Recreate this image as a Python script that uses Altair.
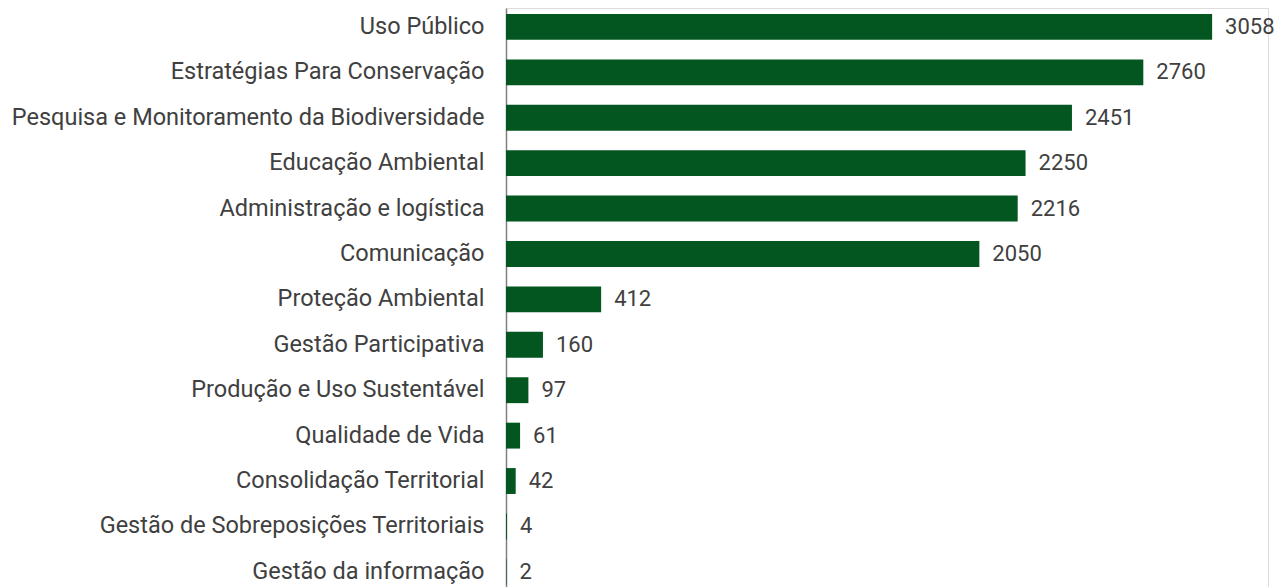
import altair as alt
import pandas as pd

categories = [
    "Uso Público",
    "Estratégias Para Conservação",
    "Pesquisa e Monitoramento da Biodiversidade",
    "Educação Ambiental",
    "Administração e logística",
    "Comunicação",
    "Proteção Ambiental",
    "Gestão Participativa",
    "Produção e Uso Sustentável",
    "Qualidade de Vida",
    "Consolidação Territorial",
    "Gestão de Sobreposições Territoriais",
    "Gestão da informação",
]
values = [3058, 2760, 2451, 2250, 2216, 2050, 412, 160, 97, 61, 42, 4, 2]

df = pd.DataFrame({"categoria": categories, "valor": values})

FONT = "Roboto"
TEXT_COLOR = "#404040"
BAR_COLOR = "#03561f"

y_enc = alt.Y(
    "categoria:N",
    sort=categories,
    scale=alt.Scale(paddingInner=0.43, paddingOuter=0.09, align=0.73),
    axis=alt.Axis(
        title=None,
        ticks=False,
        labelFont=FONT,
        labelFontSize=23.5,
        labelColor=TEXT_COLOR,
        labelPadding=22,
        labelLimit=1000,
        domainColor="#808080",
        domainWidth=1.5,
        grid=False,
    ),
)
x_enc = alt.X(
    "valor:Q",
    scale=alt.Scale(domain=[0, 3300], nice=False),
    axis=None,
)

bars = alt.Chart(df).mark_bar(color=BAR_COLOR).encode(y=y_enc, x=x_enc)
labels = alt.Chart(df).mark_text(
    align="left", baseline="middle", dx=13, font=FONT, fontSize=22, color=TEXT_COLOR
).encode(y=alt.Y("categoria:N", sort=categories), x="valor:Q", text="valor:Q")

chart = (
    alt.layer(bars, labels)
    .properties(
        width=762,
        height=579,
        autosize=alt.AutoSizeParams(type="none"),
        padding={"left": 498, "top": 0, "right": 10, "bottom": 0},
    )
    .configure_view(stroke="transparent", strokeWidth=0)
    .configure(background="white")
)

chart.save("out.html", embed_options={"renderer": "svg", "actions": False})
